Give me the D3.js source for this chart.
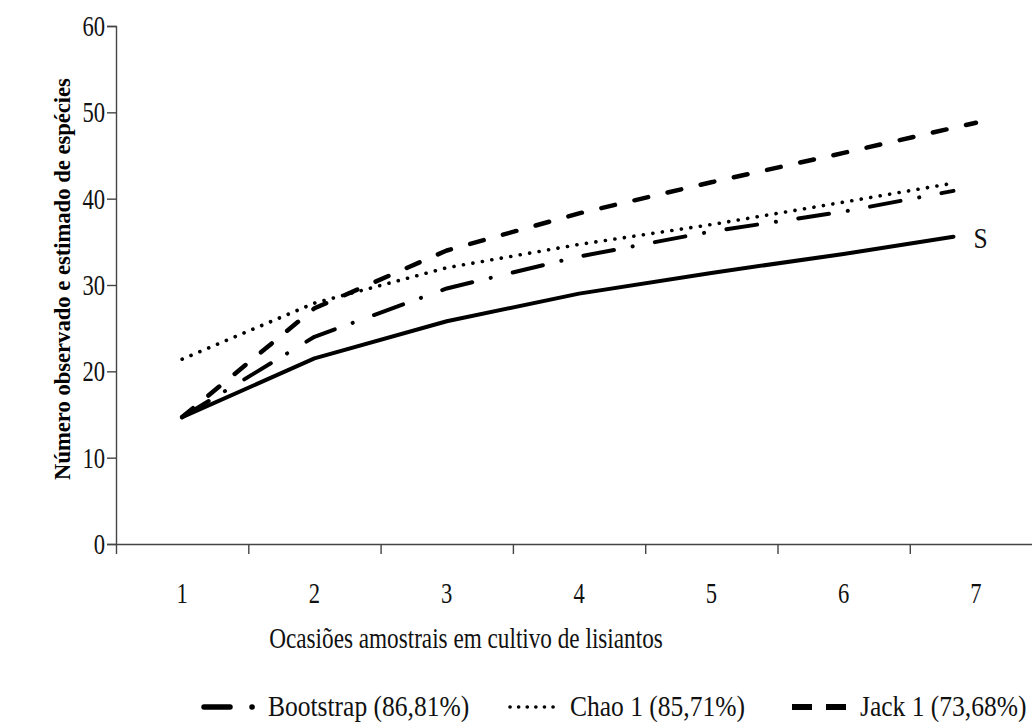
<!DOCTYPE html>
<html>
<head>
<meta charset="utf-8">
<script src="https://cdn.jsdelivr.net/npm/d3@7/dist/d3.min.js"></script>
<style>
body{margin:0;background:#fff;}
svg{display:block;font-family:"Liberation Serif","Times New Roman",serif;}
</style>
</head>
<body>
<div id="chart"></div>
<script>
// occasions (categories) and tick values
const occasions=["1","2","3","4","5","6","7"];
const yTicks=[0,10,20,30,40,50,60];
// x position of each point (S, Bootstrap and Chao stop short of the 7th center)
const xObs=[1,2,3,4,5,6,6.83];
const xJack=[1,2,3,4,5,6,7];
// species counts
const sObs=[14.7,21.5,25.8,29.0,31.4,33.6,35.6];
const bootstrap=[14.7,24.0,29.6,33.3,36.2,38.5,40.9];
const chao1=[21.4,27.9,32.0,34.7,37.0,39.6,41.8];
const jack1=[14.7,27.3,34.0,38.3,41.9,45.3,48.8];
const legendNames=["Bootstrap (86,81%)","Chao 1 (85,71%)","Jack 1 (73,68%)"];

const width=1032,height=722;
const padLeft=116,padBottom=544,padTop=26,step=132.3;

const svg=d3.select("#chart").append("svg").attr("width",width).attr("height",height);

const x=d3.scaleLinear().domain([0.5,occasions.length+0.5]).range([padLeft,padLeft+step*occasions.length]);
const y=d3.scaleLinear().domain([0,60]).range([padBottom,padTop]);

// squeezed text, the picture is a bit stretched vertically
function label(g,px,py,str,size,anchor,sx){
  return g.append("g").attr("transform","translate("+px+","+py+") scale("+sx+",1)")
    .append("text").attr("text-anchor",anchor).attr("font-size",size).attr("fill","#111").text(str);
}

// y axis
const yAxis=svg.append("g").attr("transform","translate("+padLeft+",0)")
  .call(d3.axisLeft(y).tickValues(yTicks).tickSize(9).tickFormat(""));
yAxis.selectAll("line,path").attr("stroke","#444").attr("stroke-width",1.4);
yTicks.forEach(v=>label(svg,105,y(v)+10,String(v),29,"end",0.78));

// x axis: marks between categories, labels at centers
const xAxis=svg.append("g").attr("transform","translate(0,"+padBottom+")")
  .call(d3.axisBottom(x).tickValues(occasions.map((d,i)=>i+0.5)).tickSize(10).tickFormat("").tickSizeOuter(0));
xAxis.selectAll("line,path").attr("stroke","#444").attr("stroke-width",1.4);
occasions.forEach((d,i)=>label(svg,x(i+1),603,d,29,"middle",0.78));

// titles
label(svg,466,648,"Ocasiões amostrais em cultivo de lisiantos",29,"middle",0.8);
svg.append("text").attr("transform","translate(70,279) rotate(-90)")
  .attr("text-anchor","middle").attr("font-size",22.6).attr("font-weight","bold")
  .text("Número observado e estimado de espécies");

const line=d3.line().x(d=>x(d[0])).y(d=>y(d[1]));
const series=[
  {xs:xObs,vals:sObs,dash:null,w:4},
  {xs:xObs,vals:bootstrap,dash:"31,19,0.1,22.6",w:4},
  {xs:xObs,vals:chao1,dash:"0.1,9.5",w:3.6},
  {xs:xJack,vals:jack1,dash:"14,20",w:4.5}
];
series.forEach(s=>{
  svg.append("path")
    .datum(s.vals.map((v,i)=>[s.xs[i],v]))
    .attr("fill","none").attr("stroke","#000").attr("stroke-width",s.w)
    .attr("stroke-linecap","round").attr("stroke-linejoin","round")
    .attr("stroke-dasharray",s.dash)
    .attr("d",line);
});
label(svg,x(xObs[6])+20,y(sObs[6])+11,"S",30,"start",0.85);

// legend
const legendDash=["26,22,0.1,60","0.1,8.5","20,14"];
const legendX=[204,510,792];
const legendW=[50,46,54];
legendNames.forEach((n,i)=>{
  svg.append("line").attr("x1",legendX[i]).attr("x2",legendX[i]+legendW[i])
    .attr("y1",707).attr("y2",707).attr("stroke","#000")
    .attr("stroke-width",i==2?6:(i==0?5.5:3.6)).attr("stroke-linecap",i==2?"butt":"round")
    .attr("stroke-dasharray",legendDash[i]);
  label(svg,legendX[i]+legendW[i]+14,716,n,29,"start",0.88);
});
</script>
</body>
</html>
